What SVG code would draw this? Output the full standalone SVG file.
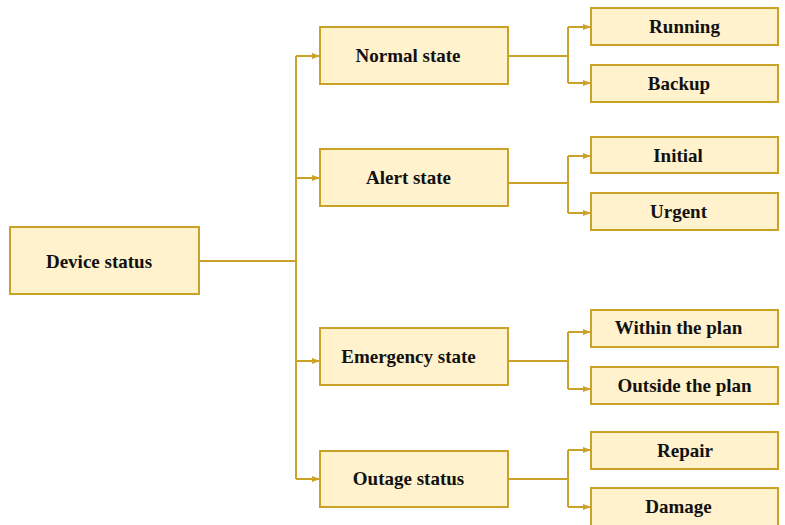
<svg xmlns="http://www.w3.org/2000/svg" width="785" height="525" viewBox="0 0 785 525">
<defs>
<marker id="ah" markerWidth="8" markerHeight="6" refX="8" refY="3" orient="auto" markerUnits="userSpaceOnUse">
<path d="M0,0 L8,3 L0,6 Z" fill="#C9A227"/>
</marker>
</defs>
<style>
.box{fill:#FFF2CC;stroke:#C9A227;stroke-width:2}
.t{font-family:"Liberation Serif","Times New Roman",serif;font-weight:bold;font-size:19px;fill:#111;text-anchor:middle}
.c{fill:none;stroke:#C9A227;stroke-width:2}
.a{marker-end:url(#ah)}
</style>
<rect width="785" height="525" fill="#fff"/>
<g id="connectors">
<path class="c" d="M199,261 H296"/>
<path class="c" d="M296,56 V479"/>
<path class="c a" d="M296,56 H320"/>
<path class="c a" d="M296,178 H320"/>
<path class="c a" d="M296,361 H320"/>
<path class="c a" d="M296,479 H320"/>
<path class="c" d="M508,56 H568 M568,27 V83"/>
<path class="c a" d="M568,27 H591"/>
<path class="c a" d="M568,83 H591"/>
<path class="c" d="M508,183 H568 M568,156 V213"/>
<path class="c a" d="M568,156 H591"/>
<path class="c a" d="M568,213 H591"/>
<path class="c" d="M508,361 H568 M568,332 V389"/>
<path class="c a" d="M568,332 H591"/>
<path class="c a" d="M568,389 H591"/>
<path class="c" d="M508,479 H568 M568,450 V507"/>
<path class="c a" d="M568,450 H591"/>
<path class="c a" d="M568,507 H591"/>
</g>
<g id="device"><rect class="box" x="10" y="227" width="189" height="67"/><text class="t" x="99" y="268">Device status</text></g>
<g id="normal"><rect class="box" x="320" y="27" width="188" height="57"/><text class="t" x="408" y="62">Normal state</text></g>
<g id="alert"><rect class="box" x="320" y="149" width="188" height="57"/><text class="t" x="408.5" y="184">Alert state</text></g>
<g id="emergency"><rect class="box" x="320" y="328" width="188" height="57"/><text class="t" x="408.5" y="363">Emergency state</text></g>
<g id="outage"><rect class="box" x="320" y="451" width="188" height="56"/><text class="t" x="408.5" y="485">Outage status</text></g>
<g id="running"><rect class="box" x="591" y="8" width="187" height="37"/><text class="t" x="684.5" y="33">Running</text></g>
<g id="backup"><rect class="box" x="591" y="65" width="187" height="37"/><text class="t" x="679" y="90">Backup</text></g>
<g id="initial"><rect class="box" x="591" y="137" width="187" height="36"/><text class="t" x="678" y="162">Initial</text></g>
<g id="urgent"><rect class="box" x="591" y="193" width="187" height="37"/><text class="t" x="678.5" y="218">Urgent</text></g>
<g id="within"><rect class="box" x="591" y="310" width="187" height="37"/><text class="t" x="678.5" y="334">Within the plan</text></g>
<g id="outside"><rect class="box" x="591" y="367" width="187" height="37"/><text class="t" x="684.5" y="392">Outside the plan</text></g>
<g id="repair"><rect class="box" x="591" y="432" width="187" height="37"/><text class="t" x="685" y="457">Repair</text></g>
<g id="damage"><rect class="box" x="591" y="488" width="187" height="40"/><text class="t" x="678.5" y="513">Damage</text></g>
</svg>
